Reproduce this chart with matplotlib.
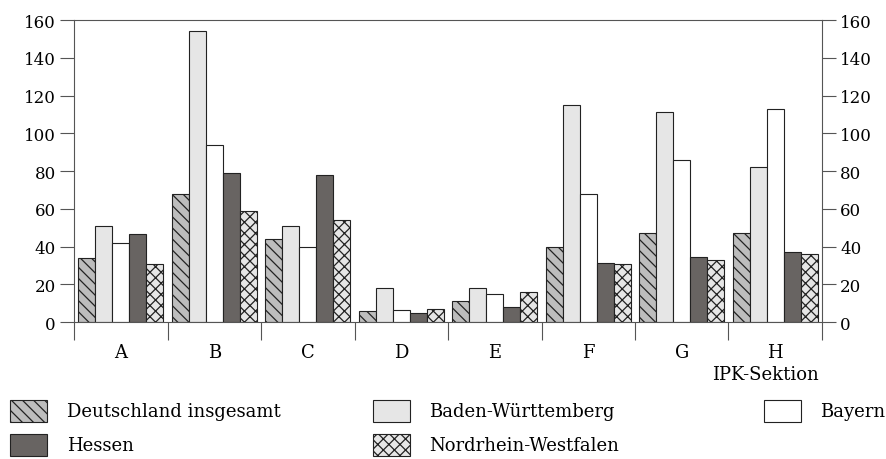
import numpy as np
import matplotlib.pyplot as plt
from matplotlib.patches import Rectangle

plt.rcParams["font.family"] = ["DejaVu Serif"]
plt.rcParams["hatch.linewidth"] = 0.9

# ── data ──────────────────────────────────────────────────────────────────────
sections = ["A", "B", "C", "D", "E", "F", "G", "H"]
series = ["Deutschland insgesamt", "Baden-Württemberg", "Bayern",
          "Hessen", "Nordrhein-Westfalen"]
deutschland = [34, 68, 44, 6, 11, 40, 47, 47]
baden_wuerttemberg = [51, 154, 51, 18, 18, 115, 111, 82]
bayern = [42, 94, 40, 6.5, 15, 68, 86, 113]
hessen = [46.5, 79, 78, 4.6, 8, 31, 34.5, 37]
nrw = [30.5, 59, 54, 7, 16, 30.5, 33, 36]
y_ticks = [0, 20, 40, 60, 80, 100, 120, 140, 160]

values = [deutschland, baden_wuerttemberg, bayern, hessen, nrw]
faces = ["#bdbdbd", "#e6e6e6", "#ffffff", "#686462", "#e6e6e6"]
hatches = ["\\\\\\", "", "", "", "xxx"]

# ── figure ────────────────────────────────────────────────────────────────────
fig = plt.figure(figsize=(8.87, 4.60), dpi=100)
ax = fig.add_axes([74 / 887, 1 - 323 / 460, 748 / 887, 302 / 460])

x = np.arange(len(sections))
w = 0.182
for i, vals in enumerate(values):
    ax.bar(x + (i - 2) * w, vals, width=w, color=faces[i], hatch=hatches[i],
           edgecolor="#222222", linewidth=0.8)

ax.set_xlim(-0.5, len(sections) - 0.5)
ax.set_ylim(0, 160)
ax.set_yticks(y_ticks)
ax.tick_params(axis="y", which="both", direction="out", length=10,
               width=0.8, color="#555555", labelsize=12, pad=3,
               left=True, right=True, labelleft=True, labelright=True)

# group separators as major ticks, letters as minor ticks
ax.set_xticks(np.arange(len(sections) + 1) - 0.5)
ax.set_xticklabels([])
ax.set_xticks(x, minor=True)
ax.set_xticklabels(sections, minor=True)
ax.tick_params(axis="x", which="major", direction="out", length=13,
               width=0.8, color="#555555")
ax.tick_params(axis="x", which="minor", length=0, labelsize=13, pad=15)

for s in ax.spines.values():
    s.set_color("#555555")
    s.set_linewidth(0.8)

fig.text(765 / 887, 1 - 375 / 460, "IPK-Sektion", ha="center", va="center",
         fontsize=13)

# ── legend ────────────────────────────────────────────────────────────────────
legend_pos = [(10, 412, 67), (373, 412, 429), (764, 412, 820),
              (10, 446, 67), (373, 446, 429)]
for i in range(len(series)):
    px, py, tx = legend_pos[i]
    r = Rectangle((px / 887, 1 - (py + 11) / 460), 37 / 887, 22 / 460,
                  transform=fig.transFigure, facecolor=faces[i],
                  hatch=hatches[i], edgecolor="#222222", linewidth=0.8)
    fig.add_artist(r)
    fig.text(tx / 887, 1 - py / 460, series[i], ha="left",
             va="center", fontsize=13)

fig.savefig("out.png", dpi=100)
